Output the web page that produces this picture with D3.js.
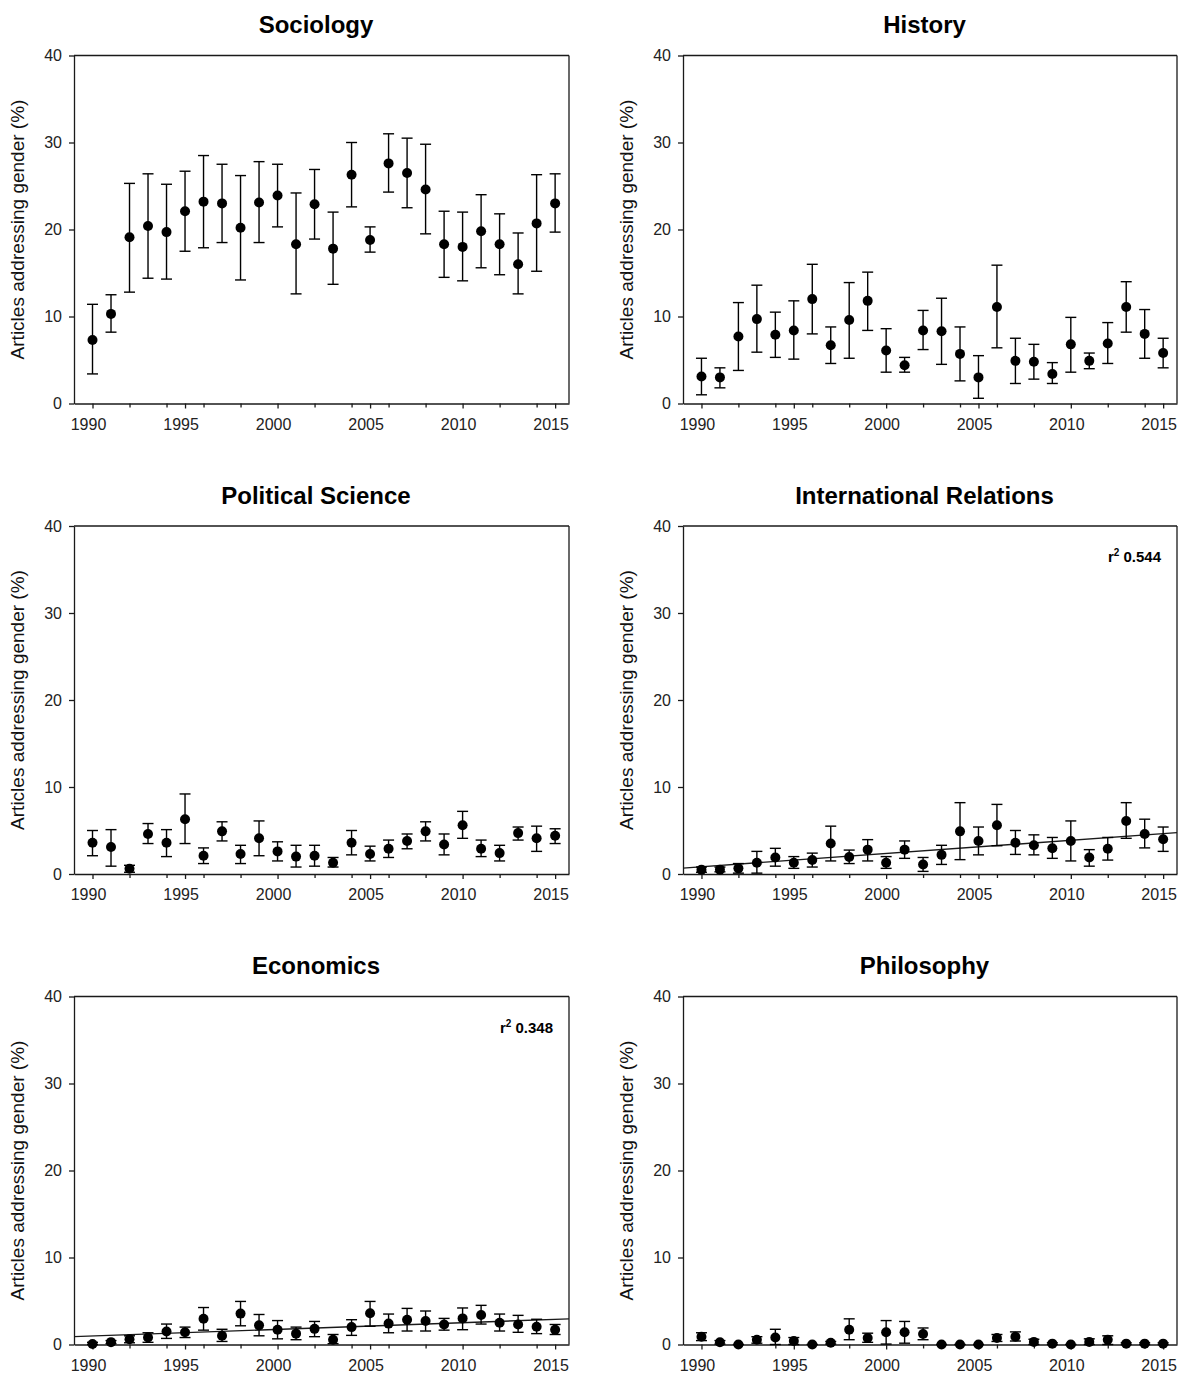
<!DOCTYPE html>
<html>
<head>
<meta charset="utf-8">
<script src="https://cdn.jsdelivr.net/npm/d3@7"></script>
<style>
  html, body { margin: 0; padding: 0; background: #fff; }
  svg { display: block; font-family: "Liberation Sans", Arial, sans-serif; }
</style>
</head>
<body>
<svg id="chart" width="1179" height="1377"></svg>
<script>
// ---- Data ----
const years = d3.range(1990, 2016);
const majorTicks = [1990, 1995, 2000, 2005, 2010, 2015];
const yTicks = [0, 10, 20, 30, 40];
const panelTitles = ["Sociology", "History", "Political Science", "International Relations", "Economics", "Philosophy"];

const sociologyMean = [7.3,10.3,19.1,20.4,19.7,22.1,23.2,23.0,20.2,23.1,23.9,18.3,22.9,17.8,26.3,18.8,27.6,26.5,24.6,18.3,18.0,19.8,18.3,16.0,20.7,23.0];
const sociologyHi   = [11.4,12.5,25.3,26.4,25.2,26.7,28.5,27.5,26.2,27.8,27.5,24.2,26.9,22.0,30.0,20.3,31.0,30.5,29.8,22.1,22.0,24.0,21.8,19.6,26.3,26.4];
const sociologyLo   = [3.4,8.2,12.8,14.4,14.3,17.5,17.9,18.5,14.2,18.5,20.3,12.6,18.9,13.7,22.6,17.4,24.3,22.5,19.5,14.5,14.1,15.6,14.8,12.6,15.2,19.7];

const historyMean = [3.1,3.0,7.7,9.7,7.9,8.4,12.0,6.7,9.6,11.8,6.1,4.4,8.4,8.3,5.7,3.0,11.1,4.9,4.8,3.4,6.8,4.9,6.9,11.1,8.0,5.8];
const historyHi   = [5.2,4.1,11.6,13.6,10.5,11.8,16.0,8.8,13.9,15.1,8.6,5.3,10.7,12.1,8.8,5.5,15.9,7.5,6.8,4.7,9.9,5.8,9.3,14.0,10.8,7.5];
const historyLo   = [1.0,1.8,3.8,5.9,5.3,5.1,8.0,4.6,5.2,8.4,3.6,3.6,6.2,4.5,2.6,0.6,6.4,2.3,2.8,2.3,3.6,4.0,4.6,8.2,5.2,4.1];

const polsciMean = [3.6,3.1,0.6,4.6,3.6,6.3,2.1,4.9,2.3,4.1,2.6,2.0,2.1,1.3,3.6,2.3,2.9,3.8,4.9,3.4,5.6,2.9,2.4,4.7,4.1,4.4];
const polsciHi   = [5.0,5.1,1.0,5.8,5.1,9.2,3.0,6.0,3.3,6.1,3.7,3.3,3.3,1.9,5.0,3.2,3.9,4.6,6.0,4.6,7.2,3.9,3.3,5.4,5.5,5.2];
const polsciLo   = [2.1,0.9,0.2,3.5,2.0,3.5,1.2,3.8,1.2,2.1,1.5,0.8,0.9,0.8,2.2,1.5,1.9,2.9,3.8,2.2,4.1,2.0,1.5,3.9,2.6,3.5];

const irMean = [0.5,0.5,0.65,1.3,1.9,1.3,1.6,3.5,1.95,2.8,1.3,2.8,1.1,2.2,4.9,3.8,5.6,3.6,3.3,2.95,3.8,1.9,2.9,6.1,4.6,4.0];
const irHi   = [0.8,0.8,1.2,2.6,2.95,2.0,2.4,5.5,2.75,3.95,2.0,3.8,1.9,3.3,8.2,5.4,8.0,5.0,4.5,4.2,6.1,2.8,4.2,8.2,6.3,5.4];
const irLo   = [0.2,0.25,0.1,0.1,0.9,0.65,0.8,1.5,1.2,1.5,0.65,1.8,0.3,1.1,1.65,2.2,3.25,2.25,2.2,1.8,1.5,0.9,1.6,4.1,3.0,2.6];

const econMean = [0.05,0.27,0.6,0.8,1.5,1.4,2.95,1.0,3.55,2.2,1.7,1.25,1.8,0.55,2.0,3.6,2.4,2.85,2.7,2.3,3.0,3.4,2.5,2.3,2.05,1.7];
const econHi   = [0.25,0.45,1.0,1.35,2.35,2.0,4.25,1.75,4.95,3.45,2.75,2.0,2.65,1.15,2.85,4.95,3.5,4.15,3.85,3.0,4.2,4.5,3.5,3.35,2.9,2.3];
const econLo   = [0.0,0.1,0.2,0.25,0.7,0.8,1.65,0.35,2.15,1.0,0.65,0.55,0.9,0.1,1.05,2.1,1.35,1.55,1.55,1.65,1.7,2.35,1.55,1.4,1.25,1.15];

const philMean = [0.9,0.25,0,0.55,0.8,0.4,0,0.2,1.7,0.75,1.4,1.4,1.2,0,0,0,0.75,0.9,0.3,0.1,0,0.3,0.55,0.1,0.1,0.1];
const philHi   = [1.35,0.45,0,0.9,1.75,0.8,0,0.35,2.95,1.3,2.75,2.65,1.9,0,0,0,1.15,1.45,0.6,0.2,0,0.65,1.0,0.2,0.2,0.2];
const philLo   = [0.45,0.05,0,0.15,0,0,0,0.05,0.55,0.25,0.05,0.15,0.55,0,0,0,0.35,0.4,0,0,0,0,0,0,0,0];

// regression line end points [year, value] and r² labels
const irTrend = [[1989, 0.68], [2015.75, 4.75]];
const econTrend = [[1989, 0.9], [2015.75, 2.95]];
const irR2 = "0.544";
const econR2 = "0.348";

// ---- Layout ----
const colX = [74, 683];
const colW = [495, 494];
const rowTop = [55.5, 526, 996.5];
const plotH = 348;
const ink = "#1a1a1a";

const panels = [
  { title: panelTitles[0], mean: sociologyMean, hi: sociologyHi, lo: sociologyLo },
  { title: panelTitles[1], mean: historyMean, hi: historyHi, lo: historyLo },
  { title: panelTitles[2], mean: polsciMean, hi: polsciHi, lo: polsciLo },
  { title: panelTitles[3], mean: irMean, hi: irHi, lo: irLo, trend: irTrend, r2: irR2 },
  { title: panelTitles[4], mean: econMean, hi: econHi, lo: econLo, trend: econTrend, r2: econR2 },
  { title: panelTitles[5], mean: philMean, hi: philHi, lo: philLo }
];

const svg = d3.select("#chart");

panels.forEach((p, i) => {
  const col = i % 2, row = Math.floor(i / 2);
  const x0 = colX[col], w = colW[col], top = rowTop[row];
  const x = d3.scaleLinear().domain([1989, 2015.75]).range([x0, x0 + w]);
  const y = d3.scaleLinear().domain([0, 40]).range([top + plotH, top]);
  const g = svg.append("g");

  // title
  g.append("text")
    .attr("x", x0 + w / 2 - 5.5)
    .attr("y", top - 22.5)
    .attr("text-anchor", "middle")
    .attr("font-size", 24)
    .attr("font-weight", "bold")
    .attr("fill", "#000")
    .text(p.title);

  // box top/right
  g.append("line").attr("x1", x0).attr("x2", x0 + w).attr("y1", top).attr("y2", top)
    .attr("stroke", ink).attr("stroke-width", 1.3);
  g.append("line").attr("x1", x0 + w).attr("x2", x0 + w).attr("y1", top).attr("y2", top + plotH)
    .attr("stroke", ink).attr("stroke-width", 1.3);

  // minor x ticks (even years)
  const minorTicks = years.filter(d => d % 2 === 0 && d % 5 !== 0);
  const xMinor = g.append("g").attr("transform", `translate(0,${top + plotH})`)
    .call(d3.axisBottom(x).tickValues(minorTicks).tickSize(4).tickSizeOuter(0).tickFormat(""));
  xMinor.select(".domain").remove();
  xMinor.selectAll("line").attr("stroke", ink).attr("stroke-width", 1.3);

  // major x axis
  const xAxis = g.append("g").attr("transform", `translate(0,${top + plotH})`)
    .call(d3.axisBottom(x).tickValues(majorTicks).tickSize(5).tickSizeOuter(0).tickPadding(10).tickFormat(d3.format("d")));
  xAxis.select(".domain").attr("stroke", ink).attr("stroke-width", 1.3);
  xAxis.selectAll("line").attr("stroke", ink).attr("stroke-width", 1.3);
  xAxis.selectAll("text").attr("font-size", 16).attr("fill", "#222").attr("dx", -4.5)
    .attr("font-family", "Liberation Sans, Arial, sans-serif");

  // y axis
  const yAxis = g.append("g").attr("transform", `translate(${x0},0)`)
    .call(d3.axisLeft(y).tickValues(yTicks).tickSize(5).tickSizeOuter(0).tickPadding(7));
  yAxis.select(".domain").attr("stroke", ink).attr("stroke-width", 1.3);
  yAxis.selectAll("line").attr("stroke", ink).attr("stroke-width", 1.3);
  yAxis.selectAll("text").attr("font-size", 16).attr("fill", "#222").attr("font-family", "Liberation Sans, Arial, sans-serif");

  // y axis label
  g.append("text")
    .attr("transform", `translate(${x0 - 50},${top + plotH / 2}) rotate(-90)`)
    .attr("text-anchor", "middle")
    .attr("font-size", 19)
    .attr("fill", "#111")
    .text("Articles addressing gender (%)");

  // regression line
  if (p.trend) {
    g.append("path")
      .attr("d", d3.line().x(d => x(d[0])).y(d => y(d[1]))(p.trend))
      .attr("fill", "none").attr("stroke", ink).attr("stroke-width", 1.4);
    const t = g.append("text")
      .attr("x", x0 + w - 16)
      .attr("y", top + 36)
      .attr("text-anchor", "end")
      .attr("font-size", 15)
      .attr("font-weight", "bold")
      .attr("fill", "#000");
    t.append("tspan").text("r");
    t.append("tspan").attr("font-size", 10).attr("dy", -6).text("2");
    t.append("tspan").attr("dy", 6).text(" " + p.r2);
  }

  // error bars
  const data = years.map((yr, k) => ({ yr, m: p.mean[k], hi: p.hi[k], lo: p.lo[k] }));
  const eb = g.append("g").attr("stroke", "#000").attr("stroke-width", 1.4);
  eb.selectAll(".v").data(data).join("line")
    .attr("x1", d => x(d.yr)).attr("x2", d => x(d.yr))
    .attr("y1", d => y(d.hi)).attr("y2", d => y(d.lo));
  eb.selectAll(".ct").data(data).join("line")
    .attr("x1", d => x(d.yr) - 5.5).attr("x2", d => x(d.yr) + 5.5)
    .attr("y1", d => y(d.hi)).attr("y2", d => y(d.hi));
  eb.selectAll(".cb").data(data).join("line")
    .attr("x1", d => x(d.yr) - 5.5).attr("x2", d => x(d.yr) + 5.5)
    .attr("y1", d => y(d.lo)).attr("y2", d => y(d.lo));

  // points
  g.append("g").selectAll("circle").data(data).join("circle")
    .attr("cx", d => x(d.yr)).attr("cy", d => y(d.m)).attr("r", 5)
    .attr("fill", "#000");
});
</script>
</body>
</html>
